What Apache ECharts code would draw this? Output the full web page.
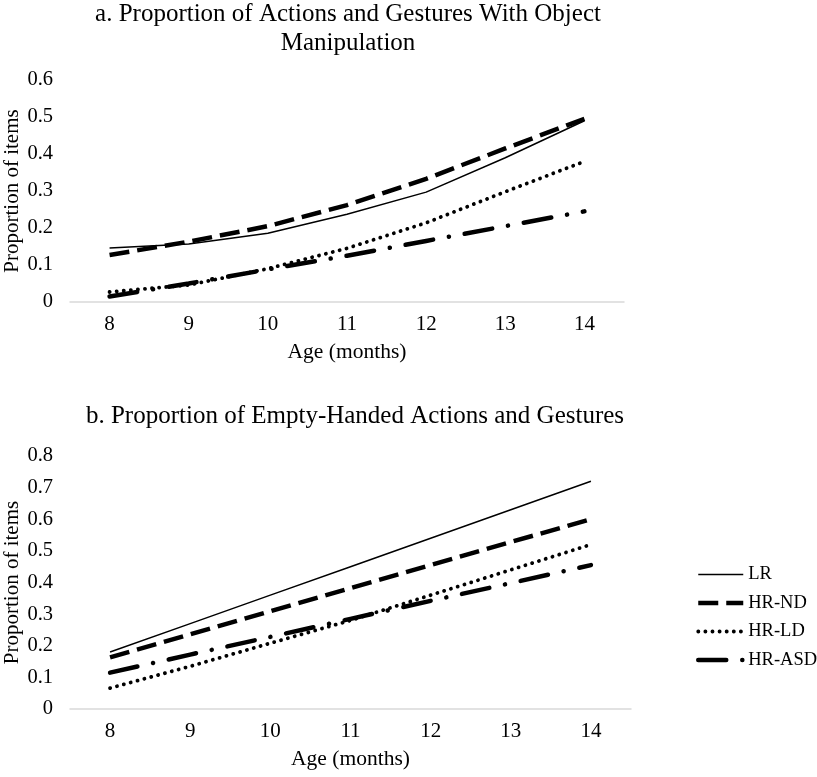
<!DOCTYPE html>
<html>
<head>
<meta charset="utf-8">
<script src="https://cdn.jsdelivr.net/npm/echarts@6/dist/echarts.min.js"></script>
<style>html,body{margin:0;padding:0;background:#fff}#c{width:817px;height:777px}</style>
</head>
<body>
<div id="c"></div>
<script>
var months = ['8','9','10','11','12','13','14'];
var seriesNames = ['LR','HR-ND','HR-LD','HR-ASD'];
var titleA = 'a. Proportion of Actions and Gestures With Object\nManipulation';
var titleB = 'b. Proportion of Empty-Handed Actions and Gestures';
var yTicksA = [0,0.1,0.2,0.3,0.4,0.5,0.6];
var yTicksB = [0,0.1,0.2,0.3,0.4,0.5,0.6,0.7,0.8];
// Panel a
var aLR    = [0.146,0.157,0.186,0.237,0.297,0.390,0.490];
var aHRND  = [0.127,0.163,0.205,0.262,0.333,0.415,0.495];
var aHRLD  = [0.027,0.046,0.090,0.145,0.214,0.298,0.380];
var aHRASD = [0.015,0.050,0.088,0.125,0.165,0.205,0.245];
// Panel b
var bLR    = [0.180,0.270,0.360,0.450,0.540,0.630,0.720];
var bHRND  = [0.163,0.236,0.309,0.382,0.455,0.528,0.600];
var bHRLD  = [0.066,0.135,0.208,0.280,0.360,0.440,0.520];
var bHRASD = [0.115,0.172,0.228,0.285,0.342,0.398,0.455];

var FONT = '"Liberation Serif","Times New Roman",serif';
var styles = {
  'LR':     {width:1.5, type:'solid', cap:'butt'},
  'HR-ND':  {width:4.5, type:[20,8], cap:'butt'},
  'HR-LD':  {width:3.8, type:[0.1,7], cap:'round'},
  'HR-ASD': {width:4.5, type:[28,16,0.1,16], cap:'round'}
};
function mk(name, data, idx){
  var s = styles[name];
  return {name:name, type:'line', xAxisIndex:idx, yAxisIndex:idx, data:data,
    showSymbol:false, symbol:'none', smooth:false, silent:true,
    lineStyle:{color:'#000', width:s.width, type:s.type, cap:s.cap},
    itemStyle:{color:'#000', opacity:0}};
}
function xAx(idx){
  return {type:'category', gridIndex:idx, data:months, boundaryGap:true,
    name:'Age (months)', nameLocation:'middle', nameGap:39, nameMoveOverlap:false,
    nameTextStyle:{fontFamily:FONT, fontSize:21.5, color:'#000', verticalAlign:'top'},
    axisLine:{lineStyle:{color:'#d9d9d9', width:1.5}},
    axisTick:{alignWithLabel:true, length:5, lineStyle:{color:'#d9d9d9', width:1.5}},
    axisLabel:{fontFamily:FONT, fontSize:21, color:'#000', margin:12}};
}
function yAx(idx, ticks){
  return {type:'value', gridIndex:idx, min:ticks[0], max:ticks[ticks.length-1], interval:0.1,
    name:'Proportion of items', nameLocation:'middle', nameGap:47, nameRotate:90, nameMoveOverlap:false,
    nameTextStyle:{fontFamily:FONT, fontSize:21, color:'#000'},
    axisLine:{show:false}, axisTick:{show:false}, splitLine:{show:false},
    axisLabel:{fontFamily:FONT, fontSize:20.5, color:'#000', margin:17,
      formatter:function(v){ return String(Math.round(v*10)/10); }}};
}
var chart = echarts.init(document.getElementById('c'), null, {renderer:'canvas'});
chart.setOption({
  backgroundColor:'#fff',
  animation:false,
  title:[
    {text:titleA, left:343, top:-5, textAlign:'center',
     textStyle:{fontFamily:FONT, fontSize:25, fontWeight:'normal', color:'#000', lineHeight:29}},
    {text:titleB, left:350, top:397, textAlign:'center',
     textStyle:{fontFamily:FONT, fontSize:25, fontWeight:'normal', color:'#000', lineHeight:29}}
  ],
  legend:{data:seriesNames, orient:'vertical', left:691, top:560, itemWidth:45, itemHeight:14,
    itemGap:9.5, itemStyle:{opacity:0, borderWidth:0}, lineStyle:{width:'inherit'},
    textStyle:{fontFamily:FONT, fontSize:18.5, color:'#000'}},
  grid:[
    {left:70, right:193, top:80, bottom:475, outerBoundsMode:'none'},
    {left:70, right:186, top:456, bottom:68, outerBoundsMode:'none'}
  ],
  xAxis:[xAx(0), xAx(1)],
  yAxis:[yAx(0, yTicksA), yAx(1, yTicksB)],
  series:[
    mk('LR', aLR, 0), mk('HR-ND', aHRND, 0), mk('HR-LD', aHRLD, 0), mk('HR-ASD', aHRASD, 0),
    mk('LR', bLR, 1), mk('HR-ND', bHRND, 1), mk('HR-LD', bHRLD, 1), mk('HR-ASD', bHRASD, 1)
  ]
});
</script>
</body>
</html>
